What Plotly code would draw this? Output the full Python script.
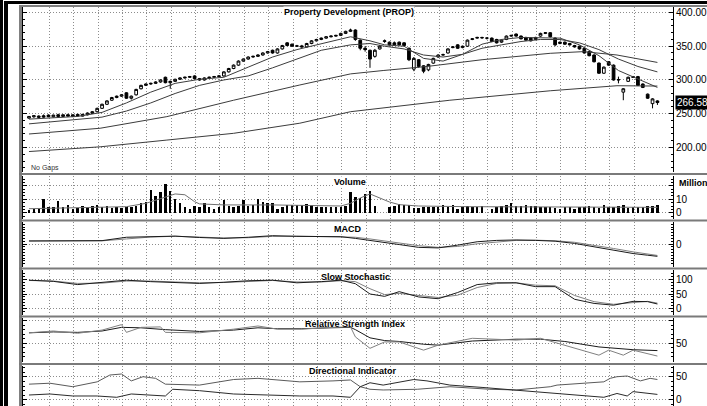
import plotly.graph_objects as go

# ---------------- DATA ----------------
bars = list(range(130))  # trading-day index

opens = [243.5,245.5,244.5,247,248,245.5,248.5,246,248.5,246,
         249,246.5,248.5,250.5,253,258,264,270,274,276,
         281,273,278,287,292,294,295,297,304,296,
         298,301,303,304,306,302,300,303,304,305,
         306,312,317,322,328,331,334,335,337,340,
         344,340,346,355,353,350,350.5,349,354,358,
         360,362,364,365,366,369,372,374,359,347,
         344,335,346,357,356,355,356,355,347,316,
         330,321,315,325,334,337,340,348,352,348,
         350,360,362,363,362,362,360,356,360,365,
         368,365,363,362,360,365,369,370,362,354,
         356,354,351,350,347,342,337,325,310,327,
         322,300,282,298,304,305,294,279,265,269]
highs = [246.5,247.5,247.5,249,249,248.5,250,249,250,249,
         250,250,252,254,259,265,270,275,277,279,
         282,277,287,293,295,296,298,301,305,299,
         302,304,305,306,307,303,304,305,306,307,
         313,318,323,329,332,335,336,338,341,343,
         345,347,352,356,354,352,352,355,359,361,
         363,365,366,367,370,373,376,375,360,350,
         345,346,352,360,357,357,357,356,348,334,
         331,322,324,333,338,339,347,350,353,351,
         360,362,364,364,363,363,361,360,366,367,
         369,366,364,363,364,370,371,371,363,357,
         357,355,352,351,348,343,338,326,320,328,
         323,305,288,305,306,306,295,280,273,270]
lows = [242.5,244,243.5,244,245,244.5,245,245,245.5,245,
        245.5,246,247.5,250,252,257,263,269,273,275,
        272,271,277,286,291,293,294,296,295,287,
        297,300,302,303,301,299,299,302,303,304,
        305,311,316,321,327,330,333,334,336,339,
        339,339,345,350,349,349,348,348,353,357,
        359,361,363,364,365,368,371,358,344,342,
        318,333,345,355,351,351,351,350,328,313,
        318,310,313,324,333,336,339,347,346,347,
        349,359,361,361,360,356,354,355,359,364,
        364,360,358,357,359,364,368,363,350,353,
        352,351,348,345,339,335,326,309,309,321,
        299,295,270,297,303,291,288,272,258,263]
closes = [246,247,246.5,245,245.5,248,246,248.5,246.5,248.5,
          247,249,251,253,258,264,269,274,276,278,
          273,276,286,292,294,295,297,300,296,298,
          301,303,304,305,302,300,303,304,305,306,
          312,317,322,328,331,334,335,337,340,342,
          340,346,351,351,350,350.5,349,354,358,360,
          362,364,365,366,369,372,374,360,347,345,
          331,344,350,358,352,352,352,351,330,332,
          320,313,323,332,337,337.5,346,349,347,350,
          359,361,363,362.5,362,357,355,359,365,366,
          365,361,359,358,363,369,370,364,352,356,
          353,352,349,346,340,336,327,310,319,322,
          300,300.5,287,304,304.5,292,289,273,272,266.58]
last_price = 266.58

# volume (millions)
volume = [2,2.5,3,10.5,4,4.5,8.5,4,5.5,2.5,
          3.5,5,4.5,5,6,4,5,3.5,4,3.5,
          4,4.5,5,7,8,17,12.5,15.5,21.5,16.5,
          10.5,7,4,2.5,5,4,7.5,4,2.5,4.5,
          9.5,5,4,5,9.5,5,6,10.5,8,7,
          7.5,3,4.5,5.5,5.5,6,6,6.5,5.5,4.5,
          4,4,4,4.5,4,5,15.5,12,11,14,
          16.5,5,0,0,4.5,5,6.5,6,6,3.5,
          3.5,4,4,4.5,4,5.5,4,6,3,4,
          5,4,4.5,5,0,3,4.5,5,6,7.5,
          5,5,5.5,5,5,4,4,4,3.5,3,
          4,4,2.5,4,4,5,4,3.5,6,4,
          4,5,6,3.5,4.5,4,4,5,5,6]
vol_ma_x = [0,10,20,24,27,30,32,34,35,40,50,60,64,66,68,70,72,74,76,80,90,100,110,120,129]
vol_ma_y = [3,4,4.5,7,10.7,14,13.4,8.2,6.6,5.8,5.8,5.5,5,7,11,14,11,8,6,5,4.5,4.5,4,4,4]

# moving averages on price
ma10_x = [0,5,10,15,20,25,30,35,40,45,50,55,60,66,70,73,77,81,85,89,93,97,101,105,109,113,117,121,125,129]
ma10_y = [242,244,246,252,266,282,295,301,304,319,334,345,354,364,358,352,350,332,328,338,353,360,363,362,362,352,336,314,302,289]
ma20_x = [0,5,10,15,20,25,30,35,40,45,50,55,60,66,70,73,77,81,85,89,93,97,101,105,109,113,117,121,125,129]
ma20_y = [235,238,241,245,254,266,280,292,300,306,318,331,344,352,354,350,346,337,334,338,347,352,357,360,360,355,345,331,320,312]
ma50_x = [0,14.6,28.3,42,55.6,66,72.7,81.7,93,107,113.8,120.7,129]
ma50_y = [220,228.5,245.7,270,292.6,309,314,320,330,339.5,342,337,326]
ma200_x = [0,14.6,28.3,42,55.6,66,86.4,107,120.7,129]
ma200_y = [194,201,211,221,236,253,270,284,291.5,291]

# MACD
ind_x = [0,5,10,15,20,25,30,35,40,45,50,55,60,64,67,70,73,76,80,84,88,92,96,100,104,108,112,116,120,124,127,129]
macd = [2.7,2.7,2.7,3.0,6.0,6.8,7.0,5.8,5.0,6.0,7.4,6.8,6.5,6.5,5.0,3.0,1.0,-0.5,-3.0,-3.5,-1.0,2.0,3.2,3.6,3.2,2.5,0.5,-2.5,-6.0,-8.5,-10.0,-11.0]
macd_signal = [2.7,2.7,2.7,2.8,4.5,6.2,6.9,6.4,5.4,5.6,6.8,7.0,6.7,6.5,6.0,4.5,2.8,1.0,-1.5,-3.0,-2.2,0.2,2.0,3.2,3.4,2.9,1.5,-1.0,-4.0,-7.0,-9.0,-10.2]

# Slow stochastic
stoch_k = [97,93,82,90,97,92,90,86,90,95,97,88,92,97,85,50,42,58,40,34,55,82,88,88,75,75,32,18,12,25,24,16]
stoch_d = [96,94,86,87,94,94,91,88,89,93,96,91,91,95,92,68,48,52,46,38,46,72,86,88,80,78,45,24,15,20,25,19]

# RSI
rsi1_x = [0,5,10,15,19,20,23,27,28,35,42,47,51,56,62,66,67,70,73,76,81,84,91,100,105,110,117,119,122,124,129]
rsi1_y = [73,77,72,79,91,74,85,86,74,73,81,88,81,81,85,86,64,39,53,53,35,46,61,57,61,46,24,35,24,35,22]
rsi2_x = [0,5,10,15,19,23,28,35,42,47,51,56,62,66,67,70,73,76,81,84,91,100,105,110,117,122,124,129]
rsi2_y = [73,75,74,77,85,84,80,76,79,84,82,82,84,85,80,62,56,54,48,46,55,59,59,54,42,37,36,34]

# Directional indicator
dip_x = [0,4.3,9,14,16.6,19,21,23.4,26,28,35,42,47,52,55.6,62.4,66,68,70,72.7,79.7,86.4,94.6,100,107,108.4,113.8,118,119.3,120.7,122.8,125.5,127.5,129]
dip_y = [34,36,28.5,39,53.6,55.8,41,50,46.5,34,32,44,46.5,43,39,41,43,28.5,23,21.5,23,28.5,23,21.5,28.5,32,36,39,46.5,50,51.5,41,46.5,44]
dim_x = [0,4.3,9,14,18,21,28,29.5,35,42,49,55.6,62.4,66,68,70,72.7,79,81.7,86.4,93,100,107,113.8,118,120.7,122.8,124,129]
dim_y = [10.7,12.9,8.6,8.6,5.8,12.9,8.6,23,20,12.9,10.7,8.6,8.6,5.8,28.5,37,32,44,41,32,27,21,15.7,8.6,5.8,14,8.6,18,12]

# ---------------- LAYOUT HELPERS ----------------
W, H = 707, 406
PLOT_L, PLOT_R = 23, 673   # plot-area pixel edges

def px_x(px):
    return px / W

def px_y(py):
    return 1 - py / H

def dom(top, bot):
    return [max(0.0, px_y(bot)), px_y(top)]

FONT = "Liberation Sans, Arial, sans-serif"
GRID = "#8c8c8c"
DASH = "1px,2px"

# weekly vertical grid positions (in bar units)
grid_pos = [4.2 + 5 * k for k in range(25)]

fig = go.Figure()

# price
fig.add_trace(go.Candlestick(
    x=bars, open=opens, high=highs, low=lows, close=closes,
    increasing=dict(line=dict(color="black", width=1), fillcolor="white"),
    decreasing=dict(line=dict(color="black", width=1), fillcolor="black"),
    whiskerwidth=0, xaxis="x", yaxis="y", showlegend=False, hoverinfo="skip"))
for mx, my in [(ma10_x, ma10_y), (ma20_x, ma20_y), (ma50_x, ma50_y), (ma200_x, ma200_y)]:
    fig.add_trace(go.Scatter(x=mx, y=my, mode="lines", line=dict(color="#3c3c3c", width=1),
                             xaxis="x", yaxis="y", showlegend=False, hoverinfo="skip"))

# volume
fig.add_trace(go.Bar(x=bars, y=volume, marker=dict(color="black", line=dict(width=0)), width=0.5,
                     xaxis="x2", yaxis="y2", showlegend=False, hoverinfo="skip"))
fig.add_trace(go.Scatter(x=vol_ma_x, y=vol_ma_y, mode="lines", line=dict(color="#6e6e6e", width=1),
                         xaxis="x2", yaxis="y2", showlegend=False, hoverinfo="skip"))

# MACD
fig.add_trace(go.Scatter(x=ind_x, y=macd_signal, mode="lines", line=dict(color="#808080", width=1),
                         xaxis="x3", yaxis="y3", showlegend=False, hoverinfo="skip"))
fig.add_trace(go.Scatter(x=ind_x, y=macd, mode="lines", line=dict(color="#1a1a1a", width=1),
                         xaxis="x3", yaxis="y3", showlegend=False, hoverinfo="skip"))

# stochastic
fig.add_trace(go.Scatter(x=ind_x, y=stoch_d, mode="lines", line=dict(color="#808080", width=1),
                         xaxis="x4", yaxis="y4", showlegend=False, hoverinfo="skip"))
fig.add_trace(go.Scatter(x=ind_x, y=stoch_k, mode="lines", line=dict(color="#1a1a1a", width=1),
                         xaxis="x4", yaxis="y4", showlegend=False, hoverinfo="skip"))

# RSI
fig.add_trace(go.Scatter(x=rsi2_x, y=rsi2_y, mode="lines", line=dict(color="#1a1a1a", width=1),
                         xaxis="x5", yaxis="y5", showlegend=False, hoverinfo="skip"))
fig.add_trace(go.Scatter(x=rsi1_x, y=rsi1_y, mode="lines", line=dict(color="#808080", width=1),
                         xaxis="x5", yaxis="y5", showlegend=False, hoverinfo="skip"))

# DI
fig.add_trace(go.Scatter(x=dip_x, y=dip_y, mode="lines", line=dict(color="#5a5a5a", width=1),
                         xaxis="x6", yaxis="y6", showlegend=False, hoverinfo="skip"))
fig.add_trace(go.Scatter(x=dim_x, y=dim_y, mode="lines", line=dict(color="#2a2a2a", width=1),
                         xaxis="x6", yaxis="y6", showlegend=False, hoverinfo="skip"))

# axes
panels = [
    # (top_px, bottom_px, range, tickvals, ticktext, minor dtick)
    (7, 172, [163.7, 408.1], [200, 250, 300, 350, 400], ["200.00", "250.00", "300.00", "350.00", "400.00"], 10),
    (176, 219, [-4.7, 27.4], [0, 10, 20], ["0", "10", ""], 2.5),
    (222, 267, [-20.5, 19.6], [0], ["0"], 2.5),
    (270, 315, [-21.4, 131.6], [0, 50, 100], ["0", "50", "100"], 10),
    (318, 362, [9.0, 105.5], [50, 100], ["50", ""], 10),
    (366, 406, [-12.9, 73.0], [0, 50], ["0", "50"], 10),
]
layout_axes = {}
for k, (top, bot, rng, tv, tt, mdt) in enumerate(panels, start=1):
    xs = "xaxis" if k == 1 else f"xaxis{k}"
    ys = "yaxis" if k == 1 else f"yaxis{k}"
    ya = "y" if k == 1 else f"y{k}"
    xa = "x" if k == 1 else f"x{k}"
    xd = dict(domain=[px_x(PLOT_L), px_x(PLOT_R)], anchor=ya, range=[-1.23, 132.2], showticklabels=False,
              tickmode="array", tickvals=grid_pos, ticks="", showgrid=True, gridcolor=GRID,
              griddash=DASH, gridwidth=1, zeroline=False, showline=False, fixedrange=True)
    if k > 1:
        xd["matches"] = "x"
    else:
        xd["rangeslider"] = dict(visible=False)
    layout_axes[xs] = xd
    layout_axes[ys] = dict(domain=dom(top, bot), anchor=xa, side="right", range=rng,
                           tickmode="array", tickvals=tv, ticktext=tt,
                           showline=True, linecolor="black", linewidth=1, mirror="ticks",
                           ticks="inside", ticklen=4, tickcolor="black",
                           showgrid=True, gridcolor=GRID, griddash=DASH, gridwidth=1,
                           zeroline=False, fixedrange=True,
                           tickfont=dict(family=FONT, size=10, color="black"),
                           minor=dict(ticks="inside", ticklen=2, tickcolor="black",
                                      tickmode="linear", tick0=0, dtick=mdt, showgrid=False))

# decorations (window frame and panel separators)
shapes = []
def vline(xc, w, y0, y1, color):
    shapes.append(dict(type="line", xref="paper", yref="paper",
                       x0=px_x(xc), x1=px_x(xc), y0=px_y(y1), y1=px_y(y0),
                       line=dict(color=color, width=w), layer="above"))

def hline(yc, w, x0, x1, color):
    shapes.append(dict(type="line", xref="paper", yref="paper",
                       x0=px_x(x0), x1=px_x(x1), y0=px_y(yc), y1=px_y(yc),
                       line=dict(color=color, width=w), layer="above"))

vline(1.5, 3, 0, 406, "black")
vline(6, 3, 1, 406, "black")
hline(2.5, 3, 4.5, 707, "black")
vline(20.5, 3, 5, 406, "#808080")
hline(6, 2, 19, 707, "#808080")
for sp in [174, 220.5, 268.5, 316.5, 364]:
    hline(sp, 2, 19, 707, "#7a7a7a")

annotations = []
def title(text, cx, cy, bg):
    annotations.append(dict(text=f"<b>{text}</b>", xref="paper", yref="paper",
                            x=px_x(cx), y=px_y(cy), xanchor="center", yanchor="middle",
                            showarrow=False, bgcolor=bg, borderpad=0,
                            font=dict(family=FONT, size=9, color="black")))

title("Property Development (PROP)", 349, 12, "white")
title("Volume", 350, 182, "white")
title("MACD", 347, 229, "white")
title("Slow Stochastic", 355, 277, "rgba(0,0,0,0)")
title("Relative Strength Index", 355, 323.5, "rgba(0,0,0,0)")
title("Directional Indicator", 353, 370.5, "rgba(0,0,0,0)")

annotations.append(dict(text="<b>Million</b>", xref="paper", yref="paper", x=px_x(677), y=px_y(183),
                        xanchor="left", yanchor="middle", showarrow=False,
                        font=dict(family=FONT, size=9, color="black")))
annotations.append(dict(text="No Gaps", xref="paper", yref="paper", x=px_x(29), y=px_y(168),
                        xanchor="left", yanchor="middle", showarrow=False,
                        font=dict(family=FONT, size=7, color="#333333")))
annotations.append(dict(text="266.58", xref="paper", yref="y", x=px_x(675), y=last_price,
                        xanchor="left", yanchor="middle", showarrow=False, bgcolor="black",
                        borderpad=1, font=dict(family=FONT, size=10, color="white")))

fig.update_layout(
    width=W, height=H, margin=dict(l=0, r=0, t=0, b=0, pad=0),
    paper_bgcolor="rgba(0,0,0,0)", plot_bgcolor="white", showlegend=False,
    shapes=shapes, annotations=annotations, bargap=0, boxgap=0.2,
    font=dict(family=FONT, size=10, color="black"),
    **layout_axes)

# page styling: no body margin, white page with the window's black frame strips
page_js = (
    "var b=document.body;b.style.margin='0';b.style.overflow='hidden';"
    "b.style.background='linear-gradient(#000,#000) 0px 0px/3px 100% no-repeat,"
    "linear-gradient(#000,#000) 4px 1px/4px 100% no-repeat,"
    "linear-gradient(#000,#000) 4px 1px/100% 3px no-repeat,#fff';"
    "document.documentElement.style.background=b.style.background;"
)
fig.write_html("out.html", config={"displayModeBar": False, "staticPlot": True},
               post_script=page_js)
